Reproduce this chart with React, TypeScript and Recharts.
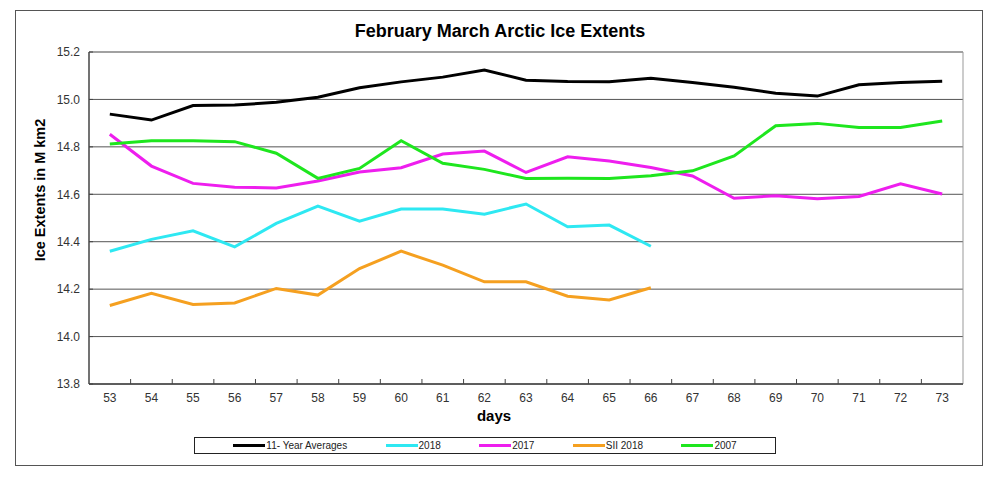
import React from 'react';
import {
  LineChart,
  Line,
  XAxis,
  YAxis,
  CartesianGrid,
  ReferenceLine,
  Legend,
} from 'recharts';

const days = [53, 54, 55, 56, 57, 58, 59, 60, 61, 62, 63, 64, 65, 66, 67, 68, 69, 70, 71, 72, 73];
const avg11 = [14.938, 14.913, 14.974, 14.976, 14.988, 15.009, 15.049, 15.074, 15.094, 15.124, 15.081, 15.076, 15.075, 15.089, 15.071, 15.051, 15.026, 15.014, 15.062, 15.071, 15.077];
const y2018 = [14.36, 14.41, 14.446, 14.378, 14.477, 14.55, 14.487, 14.538, 14.538, 14.516, 14.559, 14.463, 14.47, 14.381];
const y2017 = [14.853, 14.719, 14.646, 14.63, 14.627, 14.656, 14.694, 14.712, 14.77, 14.782, 14.692, 14.758, 14.74, 14.713, 14.677, 14.583, 14.594, 14.581, 14.591, 14.644, 14.601];
const sii2018 = [14.131, 14.182, 14.135, 14.142, 14.203, 14.175, 14.287, 14.36, 14.301, 14.231, 14.231, 14.17, 14.154, 14.206];
const y2007 = [14.812, 14.826, 14.826, 14.822, 14.773, 14.667, 14.709, 14.826, 14.731, 14.705, 14.667, 14.668, 14.667, 14.678, 14.699, 14.762, 14.889, 14.899, 14.882, 14.882, 14.909];
const yTicks = [13.8, 14.0, 14.2, 14.4, 14.6, 14.8, 15.0, 15.2];

const series = [
  { key: 'avg11', name: '11- Year Averages', color: '#000000', values: avg11 },
  { key: 'y2018', name: '2018', color: '#2EE8F2', values: y2018 },
  { key: 'y2017', name: '2017', color: '#EE1EEE', values: y2017 },
  { key: 'sii2018', name: 'SII 2018', color: '#F5A020', values: sii2018 },
  { key: 'y2007', name: '2007', color: '#1EE61E', values: y2007 },
];
const seriesOrder = series.map((s) => s.name);

const data = days.map((d, i) => {
  const row: Record<string, number | undefined> = { day: d };
  series.forEach((s) => {
    row[s.key] = s.values[i];
  });
  return row;
});

const W = 1000;
const H = 489;
const M = { top: 52, right: 37, bottom: 75, left: 49 };
const Y_AXIS_W = 40;
const X_AXIS_H = 30;
const PLOT_W = W - M.left - Y_AXIS_W - M.right;
const HALF_STEP = PLOT_W / days.length / 2;
const FONT = "'Liberation Sans', Arial, sans-serif";

const XTick = (props: any) => {
  const { x, y, payload, index } = props;
  return (
    <g>
      <text x={x} y={y} dy={18} textAnchor="middle" fontFamily={FONT} fontSize={12} fill="#333">
        {payload.value}
      </text>
      {index < days.length - 1 && (
        <line x1={x + HALF_STEP} x2={x + HALF_STEP} y1={y} y2={y - 5} stroke="#444" strokeWidth={1} />
      )}
    </g>
  );
};

const YTick = (props: any) => {
  const { x, y, payload } = props;
  return (
    <g>
      <text x={x - 9} y={y} dy="0.36em" textAnchor="end" fontFamily={FONT} fontSize={12} fill="#333">
        {Number(payload.value).toFixed(1)}
      </text>
      <line x1={x} x2={x + 4} y1={y} y2={y} stroke="#444" strokeWidth={1} />
    </g>
  );
};

const LegendContent = (props: any) => {
  const items = [...(props.payload || [])].sort(
    (a: any, b: any) => seriesOrder.indexOf(a.value) - seriesOrder.indexOf(b.value)
  );
  return (
    <div
      style={{
        boxSizing: 'border-box',
        width: '100%',
        height: 17,
        border: '1px solid #222',
        display: 'flex',
        alignItems: 'center',
        justifyContent: 'space-evenly',
        background: '#fff',
      }}
    >
      {items.map((p: any) => (
        <div key={p.value} style={{ display: 'flex', alignItems: 'center' }}>
          <div style={{ width: 32, height: 3, background: p.color, marginRight: 1 }} />
          <span
            style={{
              fontFamily: "'Liberation Sans Narrow', 'Arial Narrow', Arial, sans-serif",
              fontSize: 10,
              color: '#222',
              lineHeight: '10px',
            }}
          >
            {p.value}
          </span>
        </div>
      ))}
    </div>
  );
};

export default function App() {
  return (
    <div style={{ position: 'absolute', left: 0, top: 0, width: W, height: H, background: '#fff' }}>
      <div
        style={{
          position: 'absolute',
          left: 15,
          top: 10,
          width: 968,
          height: 456,
          boxSizing: 'border-box',
          border: '1.5px solid #555',
        }}
      />
      <div
        style={{
          position: 'absolute',
          left: 0,
          top: 21,
          width: W,
          textAlign: 'center',
          fontFamily: FONT,
          fontWeight: 'bold',
          fontSize: 18,
          lineHeight: '20px',
          color: '#000',
        }}
      >
        February March Arctic Ice Extents
      </div>
      <div style={{ position: 'absolute', left: 40, top: 190, width: 0, height: 0 }}>
        <div
          style={{
            position: 'absolute',
            left: 0,
            top: 0,
            transform: 'translate(-50%, -50%) rotate(-90deg)',
            whiteSpace: 'nowrap',
            fontFamily: FONT,
            fontWeight: 'bold',
            fontSize: 14.5,
            lineHeight: '17px',
            color: '#000',
          }}
        >
          Ice Extents in M km2
        </div>
      </div>
      <div
        style={{
          position: 'absolute',
          left: 394,
          top: 407,
          width: 200,
          textAlign: 'center',
          fontFamily: FONT,
          fontWeight: 'bold',
          fontSize: 15,
          lineHeight: '18px',
          color: '#000',
        }}
      >
        days
      </div>
      <div style={{ position: 'absolute', left: 0, top: 0 }}>
        <LineChart width={W} height={H} data={data} margin={M}>
          <CartesianGrid horizontal vertical={false} stroke="#555" strokeWidth={1} />
          <XAxis
            dataKey="day"
            type="number"
            domain={[52.5, 73.5]}
            ticks={days}
            interval={0}
            height={X_AXIS_H}
            tickSize={0}
            tickMargin={0}
            tickLine={false}
            tick={<XTick />}
            axisLine={{ stroke: '#444', strokeWidth: 1.5 }}
          />
          <YAxis
            type="number"
            domain={[13.8, 15.2]}
            ticks={yTicks}
            interval={0}
            width={Y_AXIS_W}
            tickSize={0}
            tickMargin={0}
            tickLine={false}
            tick={<YTick />}
            axisLine={{ stroke: '#444', strokeWidth: 1.5 }}
          />
          <ReferenceLine y={15.2} stroke="#999" strokeWidth={1} />
          <ReferenceLine x={73.5} stroke="#999" strokeWidth={1} />
          {series.map((s) => (
            <Line
              key={s.key}
              dataKey={s.key}
              name={s.name}
              stroke={s.color}
              strokeWidth={3}
              dot={false}
              activeDot={false}
              isAnimationActive={false}
              connectNulls={false}
            />
          ))}
          <Legend
            layout="horizontal"
            verticalAlign="middle"
            align="center"
            content={<LegendContent />}
            wrapperStyle={{ left: 194, top: 437, width: 582, height: 17 }}
          />
        </LineChart>
      </div>
    </div>
  );
}
